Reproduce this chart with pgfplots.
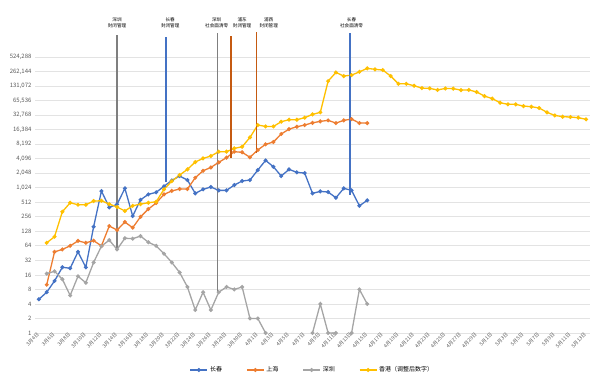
\documentclass[border=0pt]{standalone}
\usepackage{fontspec}
\setmainfont{Noto Sans CJK SC}
\usepackage{pgfplots}
\usepackage{pgfplotstable}
\pgfplotsset{compat=1.18}
\definecolor{ccblue}{HTML}{4472C4}
\definecolor{shorange}{HTML}{ED7D31}
\definecolor{szgray}{HTML}{A5A5A5}
\definecolor{hkgold}{HTML}{FFC000}
\definecolor{gridgray}{HTML}{E3E3E3}
\definecolor{labgray}{HTML}{595959}
\definecolor{anngray}{HTML}{7F7F7F}
\definecolor{annorange}{HTML}{C55A11}

\pgfplotstableread{
i v
0 5
1 7
2 12
3 23
4 22
5 48
6 23
7 159
8 875
9 402
10 463
11 995
12 265
13 577
14 746
15 823
16 1097
17 1450
18 1790
19 1478
20 784
21 949
22 1059
23 904
24 904
25 1165
26 1410
27 1478
28 2380
29 3777
30 2790
31 1790
32 2460
33 2135
34 2060
35 784
36 860
37 834
38 635
39 995
40 904
41 433
42 560
}\cc

\pgfplotstableread{
i v
1 10
2 48
3 54
4 64
5 81
6 74
7 82
8 64
9 165
10 136
11 199
12 152
13 256
14 370
15 494
16 746
17 880
18 962
19 962
20 1650
21 2300
22 2700
23 3440
24 4300
25 5720
26 5550
27 4380
28 6200
29 8130
30 9080
31 13300
32 16800
33 18800
34 20400
35 22700
36 24300
37 25500
38 22400
39 25500
40 27100
41 22400
42 22400
}\sh

\pgfplotstableread{
i v
1 17
2 19
3 13
4 6
5 15
6 11
7 29
8 63
9 84
10 54
11 92
12 90
13 102
14 76
15 64
16 44
17 29
18 18
19 9
20 3
21 7
22 3
23 7
24 9
25 8
26 9
27 2
28 2
29 1
30 nan
31 nan
32 nan
33 nan
34 nan
35 1
36 4
37 1
38 1
39 nan
40 1
41 8
42 4
}\sz

\pgfplotstableread{
i v
1 74
2 99
3 326
4 500
5 455
6 455
7 542
8 550
9 470
10 408
11 338
12 433
13 470
14 500
15 526
16 949
17 1400
18 1875
19 2460
20 3490
21 4160
22 4640
23 5720
24 5720
25 6700
26 7240
27 11300
28 20400
29 19100
30 19100
31 23900
32 26300
33 26300
34 29000
35 33900
36 37400
37 166000
38 251000
39 211000
40 221000
41 258000
42 305000
43 291000
44 281000
45 211000
46 146000
47 146000
48 133000
49 119000
50 117000
51 109000
52 117000
53 116000
54 108000
55 109000
56 98800
57 81300
58 71900
59 59200
60 54800
61 54800
62 50400
63 49000
64 46000
65 37400
66 32300
67 30400
68 29900
69 29000
70 26800
}\hk

\begin{document}
\begin{tikzpicture}[x=1pt,y=1pt]
\path[use as bounding box] (0,0) rectangle (600,376);
\begin{axis}[
  at={(35pt,43pt)}, anchor=south west,
  scale only axis, width=555pt, height=276pt,
  xmin=-0.5, xmax=70.5,
  ymode=log, log basis y=2, ymin=1, ymax=524288,
  ytick={1,2,4,8,16,32,64,128,256,512,1024,2048,4096,8192,16384,32768,65536,131072,262144,524288},
  yticklabels={1,2,4,8,16,32,64,128,256,512,{1,024},{2,048},{4,096},{8,192},{16,384},{32,768},{65,536},{131,072},{262,144},{524,288}},
  xtick={0,2,...,70},
  xticklabels={3月4日,3月6日,3月8日,3月10日,3月12日,3月14日,3月16日,3月18日,3月20日,3月22日,3月24日,3月26日,3月28日,3月30日,4月1日,4月3日,4月5日,4月7日,4月9日,4月11日,4月13日,4月15日,4月17日,4月19日,4月21日,4月23日,4月25日,4月27日,4月29日,5月1日,5月3日,5月5日,5月7日,5月9日,5月11日,5月13日},
  x tick label style={rotate=45, anchor=east, font=\fontsize{5}{5.5}\selectfont, text=labgray, inner sep=1pt},
  y tick label style={font=\fontsize{6}{7}\selectfont, text=labgray},
  ymajorgrids, grid style={draw=gridgray, line width=0.7pt},
  axis line style={draw=none}, major tick length=0pt,
  clip=false, unbounded coords=jump,
  every axis plot/.append style={line width=1.3pt, mark=*, mark size=1.3pt},
  legend style={at={(0.5,-0.134)}, anchor=center, draw=none, fill=none,
    legend columns=4, font=\fontsize{6}{7}\selectfont,
    /tikz/every even column/.append style={column sep=22pt}},
]
\addplot[color=ccblue, mark options={fill=ccblue}] table[x=i,y=v] {\cc};
\addlegendentry{长春}
\addplot[color=shorange, mark options={fill=shorange}] table[x=i,y=v] {\sh};
\addlegendentry{上海}
\addplot[color=szgray, mark options={fill=szgray}] table[x=i,y=v] {\sz};
\addlegendentry{深圳}
\addplot[color=hkgold, mark options={fill=hkgold}] table[x=i,y=v] {\hk};
\addlegendentry{香港（调整后数字）}

\draw[anngray, line width=1.4pt] (axis cs:10,54) -- (axis cs:10,1493000);
\draw[ccblue, line width=1.4pt] (axis cs:16.25,1343) -- (axis cs:16.25,1356000);
\draw[anngray, line width=1.4pt] (axis cs:22.86,7) -- (axis cs:22.86,1645000);
\draw[annorange, line width=1.4pt] (axis cs:24.56,4220) -- (axis cs:24.56,1423000);
\draw[annorange, line width=1.4pt] (axis cs:27.8,5360) -- (axis cs:27.8,1727000);
\draw[ccblue, line width=1.4pt] (axis cs:39.82,724) -- (axis cs:39.82,1645000);

\tikzset{ann/.style={align=center, font=\fontsize{4.6}{6.5}\selectfont, inner sep=0pt}}
\node[ann] at (axis cs:10,2710000) {深圳\\封闭管理};
\node[ann] at (axis cs:16.8,2710000) {长春\\封闭管理};
\node[ann] at (axis cs:22.75,2710000) {深圳\\社会面清零};
\node[ann] at (axis cs:26.0,2710000) {浦东\\封闭管理};
\node[ann] at (axis cs:29.4,2710000) {浦西\\封闭管理};
\node[ann] at (axis cs:40.0,2710000) {长春\\社会面清零};
\end{axis}
\end{tikzpicture}
\end{document}
